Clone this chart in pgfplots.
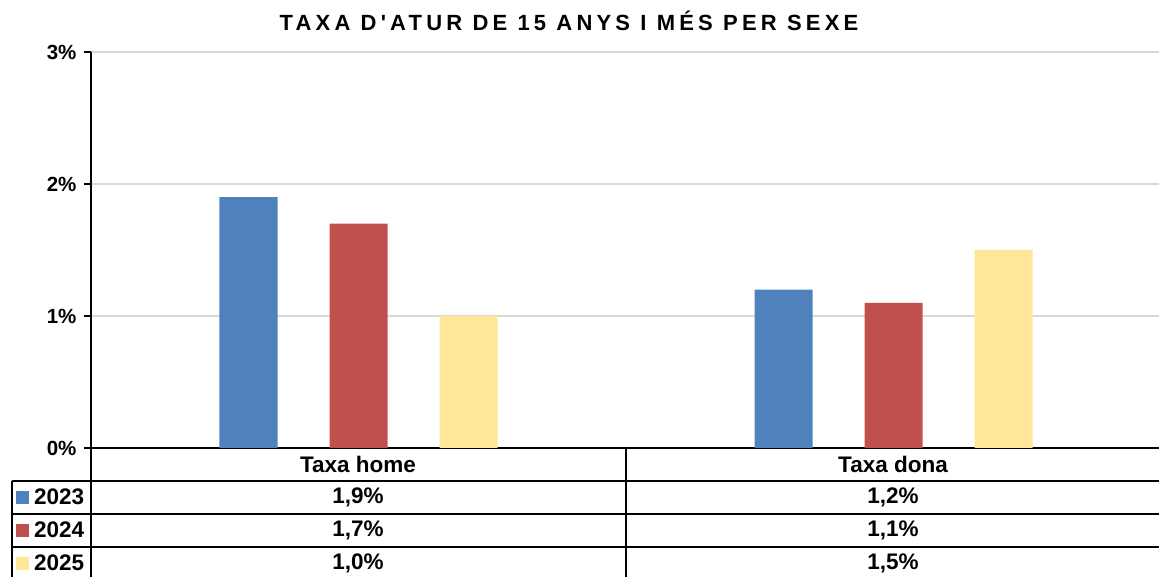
\documentclass[border=0pt]{standalone}
\usepackage{fontspec}
\setmainfont{Liberation Sans}
\newfontfamily\titlefont[LetterSpace=19]{Liberation Sans}
\usepackage{pgfplots}
\pgfplotsset{compat=1.18}
\definecolor{c23}{HTML}{4F81BD}
\definecolor{c24}{HTML}{C0504D}
\definecolor{c25}{HTML}{FFE699}
\definecolor{gridc}{HTML}{D9D9D9}
\newcommand{\tabfont}{\bfseries\fontsize{22.5bp}{24bp}\selectfont}
\begin{document}
\begin{tikzpicture}
\useasboundingbox (-91bp,-129bp) rectangle (1068bp,448bp);
\begin{axis}[
  at={(0,0)}, anchor=south west,
  scale only axis,
  width=1070bp, height=396bp,
  xmin=-0.5, xmax=1.5,
  ymin=0, ymax=3,
  xtick=\empty,
  ytick={0,1,2,3},
  yticklabels={0\%,1\%,2\%,3\%},
  yticklabel style={font=\bfseries\fontsize{20.5bp}{22bp}\selectfont, xshift=-4bp},
  axis x line*=bottom,
  axis y line*=left,
  axis line style={line width=1.5bp, black, -},
  tick style={line width=1.5bp, black},
  tick align=outside,
  major tick length=7bp,
  ymajorgrids=true,
  grid style={line width=1.5bp, gridc},
  ybar=52bp,
  bar width=58bp,
]
\addplot[fill=c23, draw=none] coordinates {(0,1.9) (1,1.2)};
\addplot[fill=c24, draw=none] coordinates {(0,1.7) (1,1.1)};
\addplot[fill=c25, draw=none] coordinates {(0,1.0) (1,1.5)};
\end{axis}
% title
\node[font=\titlefont\bfseries\fontsize{22bp}{24bp}\selectfont] at (478bp,427bp) {TAXA D'ATUR DE 15 ANYS I MÉS PER SEXE};
% data table
\begin{scope}[line width=1.5bp]
\draw (-79bp,-33bp) -- (1068bp,-33bp);
\draw (-79bp,-66bp) -- (1068bp,-66bp);
\draw (-79bp,-99bp) -- (1068bp,-99bp);
\draw (0,0) -- (0,-129bp);
\draw (535bp,0) -- (535bp,-129bp);
\draw (-79bp,-33bp) -- (-79bp,-129bp);
\end{scope}
\node[font=\tabfont] at (267bp,-16bp) {Taxa home};
\node[font=\tabfont] at (802bp,-16bp) {Taxa dona};
\fill[c23] (-75bp,-56bp) rectangle (-62bp,-43bp);
\fill[c24] (-75bp,-89bp) rectangle (-62bp,-76bp);
\fill[c25] (-75bp,-122bp) rectangle (-62bp,-109bp);
\node[font=\tabfont, anchor=west, inner sep=0pt] at (-57bp,-49bp) {2023};
\node[font=\tabfont, anchor=west, inner sep=0pt] at (-57bp,-82bp) {2024};
\node[font=\tabfont, anchor=west, inner sep=0pt] at (-57bp,-115bp) {2025};
\node[font=\tabfont] at (267bp,-49bp) {1,9\%};
\node[font=\tabfont] at (267bp,-82bp) {1,7\%};
\node[font=\tabfont] at (267bp,-115bp) {1,0\%};
\node[font=\tabfont] at (802bp,-49bp) {1,2\%};
\node[font=\tabfont] at (802bp,-82bp) {1,1\%};
\node[font=\tabfont] at (802bp,-115bp) {1,5\%};
\end{tikzpicture}
\end{document}
